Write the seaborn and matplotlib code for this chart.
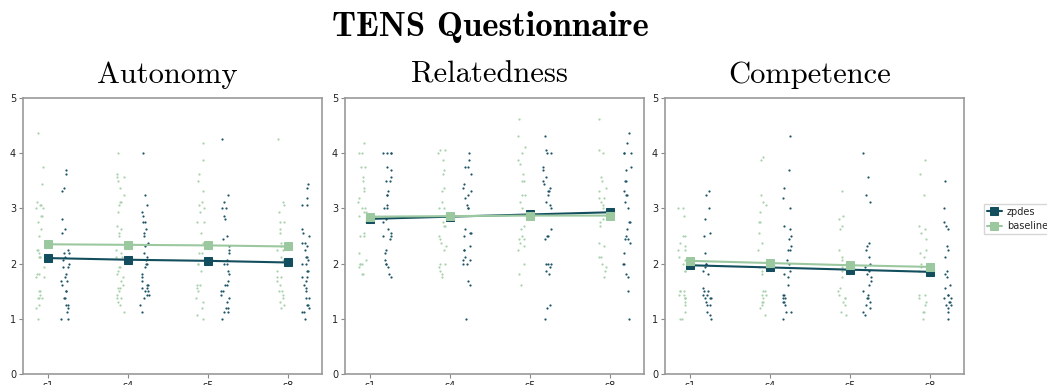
import matplotlib
matplotlib.use("Agg")
import matplotlib.pyplot as plt
import numpy as np
import pandas as pd
import seaborn as sns

sessions = ["s1", "s4", "s5", "s8"]
groups = ["zpdes", "baseline"]
panels = ["Autonomy", "Relatedness", "Competence"]

# individual questionnaire scores, one list per session (s1, s4, s5, s8)
autonomy_baseline = [
    [4.37, 3.75, 3.44, 3.12, 3.06, 3.06, 3.0, 3.0, 2.87, 2.87, 2.75, 2.62, 2.5, 2.25, 2.25, 2.19, 2.12,
     2.12, 2.12, 1.94, 1.81, 1.81, 1.75, 1.75, 1.5, 1.5, 1.44, 1.37, 1.37, 1.37, 1.25, 1.19, 1.0],
    [4.0, 3.62, 3.56, 3.56, 3.5, 3.37, 3.25, 3.12, 3.12, 3.06, 2.94, 2.69, 2.62, 2.56, 2.5, 2.25, 2.19,
     2.12, 2.12, 1.94, 1.94, 1.87, 1.81, 1.75, 1.69, 1.62, 1.56, 1.56, 1.5, 1.44, 1.37, 1.37, 1.31, 1.25, 1.12],
    [4.19, 3.87, 3.62, 3.5, 3.31, 3.12, 3.06, 3.0, 2.94, 2.75, 2.75, 2.56, 2.37, 2.19, 2.19, 2.0, 2.0,
     1.87, 1.62, 1.62, 1.56, 1.5, 1.37, 1.31, 1.19, 1.06, 1.0],
    [4.25, 3.12, 3.06, 2.94, 2.75, 2.75, 2.62, 2.56, 2.37, 2.31, 2.25, 2.25, 2.12, 2.06, 1.87, 1.75, 1.75,
     1.69, 1.62, 1.5, 1.5, 1.44, 1.37, 1.31, 1.25, 1.19],
]
autonomy_zpdes = [
    [3.69, 3.62, 3.37, 3.31, 2.81, 2.62, 2.56, 2.25, 2.19, 2.19, 2.12, 2.06, 2.0, 1.94, 1.94, 1.81, 1.75,
     1.69, 1.69, 1.62, 1.5, 1.5, 1.37, 1.37, 1.25, 1.25, 1.19, 1.12, 1.0, 1.0],
    [4.0, 3.25, 3.06, 2.94, 2.87, 2.75, 2.75, 2.62, 2.56, 2.5, 2.37, 2.31, 2.19, 2.12, 2.06, 2.0, 2.0,
     1.94, 1.81, 1.75, 1.69, 1.62, 1.62, 1.56, 1.56, 1.5, 1.5, 1.44, 1.44, 1.37, 1.25, 1.12],
    [4.25, 3.25, 3.12, 3.0, 3.0, 2.87, 2.81, 2.5, 2.44, 2.31, 2.25, 2.19, 2.06, 2.0, 2.0, 1.87, 1.81,
     1.69, 1.62, 1.62, 1.5, 1.5, 1.44, 1.37, 1.31, 1.19, 1.19, 1.12, 1.12, 1.0],
    [3.44, 3.37, 3.19, 3.06, 3.06, 2.62, 2.56, 2.5, 2.37, 2.37, 2.31, 2.25, 2.12, 2.12, 2.06, 2.0, 2.0,
     1.87, 1.87, 1.75, 1.75, 1.69, 1.62, 1.56, 1.5, 1.37, 1.37, 1.25, 1.25, 1.19, 1.12, 1.12, 1.0],
]
relatedness_baseline = [
    [4.19, 4.0, 4.0, 3.75, 3.75, 3.56, 3.5, 3.37, 3.31, 3.19, 3.12, 3.0, 3.0, 2.94, 2.94, 2.87, 2.75,
     2.56, 2.5, 2.5, 2.19, 2.06, 2.0, 2.0, 2.0, 1.94, 1.81, 1.81],
    [4.06, 4.06, 4.0, 3.87, 3.69, 3.62, 3.37, 3.31, 3.12, 3.0, 3.0, 2.75, 2.69, 2.69, 2.5, 2.44, 2.37,
     2.31, 2.25, 2.0, 2.0, 1.94, 1.87, 1.81, 1.75],
    [4.62, 4.31, 4.12, 4.0, 3.87, 3.81, 3.62, 3.5, 3.5, 3.25, 3.25, 3.12, 3.0, 2.69, 2.62, 2.5, 2.44,
     2.44, 2.37, 2.31, 2.25, 2.0, 1.81, 1.62],
    [4.62, 4.06, 4.0, 3.56, 3.5, 3.37, 3.31, 3.19, 3.19, 3.12, 3.06, 3.0, 2.81, 2.75, 2.69, 2.37, 2.31,
     2.12, 2.12, 2.0, 1.94, 1.87, 1.75],
]
relatedness_zpdes = [
    [4.0, 4.0, 4.0, 4.0, 3.75, 3.69, 3.56, 3.5, 3.5, 3.31, 3.25, 3.25, 3.06, 3.0, 3.0, 2.81, 2.75,
     2.62, 2.56, 2.5, 2.5, 2.44, 2.25, 2.19, 2.06, 2.0, 2.0, 1.94, 1.81, 1.75],
    [4.0, 3.87, 3.75, 3.75, 3.62, 3.44, 3.37, 3.31, 3.25, 3.19, 3.06, 3.0, 3.0, 2.62, 2.56, 2.56, 2.5,
     2.31, 2.25, 2.25, 2.12, 2.06, 2.06, 2.0, 2.0, 1.69, 1.62, 1.0],
    [4.31, 4.06, 4.0, 4.0, 3.75, 3.69, 3.56, 3.5, 3.44, 3.37, 3.31, 3.31, 3.25, 3.12, 3.06, 3.0, 2.62,
     2.5, 2.5, 2.44, 2.0, 2.0, 2.0, 1.94, 1.87, 1.81, 1.25, 1.19, 1.0],
    [4.37, 4.19, 4.0, 4.0, 4.0, 3.75, 3.69, 3.5, 3.5, 3.31, 3.25, 3.25, 3.12, 3.0, 2.75, 2.75, 2.62,
     2.5, 2.44, 2.44, 2.37, 2.19, 2.0, 2.0, 1.81, 1.75, 1.5, 1.0],
]
competence_baseline = [
    [3.0, 3.0, 2.87, 2.5, 2.5, 2.37, 2.31, 2.25, 2.25, 2.12, 2.06, 2.0, 1.87, 1.87, 1.5, 1.5, 1.5,
     1.44, 1.44, 1.37, 1.37, 1.37, 1.31, 1.25, 1.12, 1.0, 1.0],
    [3.94, 3.87, 3.25, 3.12, 3.06, 2.94, 2.75, 2.75, 2.56, 2.37, 2.25, 1.94, 1.87, 1.81, 1.5, 1.5,
     1.44, 1.44, 1.37, 1.31, 1.31, 1.25, 1.19, 1.06],
    [3.31, 2.87, 2.81, 2.69, 2.62, 2.25, 2.12, 2.06, 2.0, 1.94, 1.87, 1.75, 1.56, 1.5, 1.44, 1.37,
     1.37, 1.31, 1.25, 1.12, 1.06],
    [3.87, 3.62, 3.25, 2.69, 2.62, 2.56, 2.44, 2.25, 2.19, 2.12, 2.0, 1.94, 1.87, 1.44, 1.44, 1.37,
     1.31, 1.25, 1.12, 1.12, 1.0],
]
competence_zpdes = [
    [3.31, 3.25, 3.0, 2.81, 2.56, 2.5, 2.19, 2.0, 2.0, 1.94, 1.87, 1.81, 1.56, 1.5, 1.5, 1.44, 1.44,
     1.37, 1.37, 1.37, 1.31, 1.25, 1.25, 1.12, 1.06, 1.0],
    [4.31, 3.69, 3.37, 3.19, 3.0, 2.69, 2.62, 2.5, 2.44, 2.31, 2.25, 2.25, 2.06, 2.0, 1.87, 1.81, 1.75,
     1.62, 1.44, 1.44, 1.37, 1.37, 1.31, 1.31, 1.25, 1.12, 1.12, 1.0],
    [4.0, 3.56, 3.25, 3.12, 2.37, 2.31, 2.25, 2.12, 2.0, 1.94, 1.87, 1.81, 1.75, 1.69, 1.62, 1.5, 1.44,
     1.37, 1.37, 1.31, 1.25, 1.19, 1.12, 1.06],
    [3.5, 3.0, 2.75, 2.69, 2.62, 2.31, 2.25, 2.12, 1.87, 1.81, 1.75, 1.62, 1.56, 1.44, 1.44, 1.37, 1.37,
     1.31, 1.31, 1.25, 1.25, 1.19, 1.12, 1.0],
]

# group means per session
autonomy_mean_zpdes = [2.10, 2.07, 2.05, 2.02]
autonomy_mean_baseline = [2.35, 2.34, 2.33, 2.31]
relatedness_mean_zpdes = [2.81, 2.85, 2.89, 2.93]
relatedness_mean_baseline = [2.85, 2.86, 2.87, 2.87]
competence_mean_zpdes = [1.97, 1.93, 1.89, 1.85]
competence_mean_baseline = [2.05, 2.01, 1.97, 1.94]

scores = {
    ("Autonomy", "zpdes"): autonomy_zpdes,
    ("Autonomy", "baseline"): autonomy_baseline,
    ("Relatedness", "zpdes"): relatedness_zpdes,
    ("Relatedness", "baseline"): relatedness_baseline,
    ("Competence", "zpdes"): competence_zpdes,
    ("Competence", "baseline"): competence_baseline,
}
means = {
    ("Autonomy", "zpdes"): autonomy_mean_zpdes,
    ("Autonomy", "baseline"): autonomy_mean_baseline,
    ("Relatedness", "zpdes"): relatedness_mean_zpdes,
    ("Relatedness", "baseline"): relatedness_mean_baseline,
    ("Competence", "zpdes"): competence_mean_zpdes,
    ("Competence", "baseline"): competence_mean_baseline,
}

rows = []
for (panel, group), per_session in scores.items():
    for si, vals in enumerate(per_session):
        for v in vals:
            rows.append({"panel": panel, "group": group, "session": si, "score": v})
df = pd.DataFrame(rows)

sns.set_theme(style="white")
plt.rcParams["font.family"] = ["DejaVu Sans"]

colors = {"zpdes": "#134e5e", "baseline": "#9cc8a0"}
dot_colors = {"zpdes": "#1d5567", "baseline": "#a9d1ac"}
offsets = {"zpdes": 0.21, "baseline": -0.10}
jitters = {"zpdes": 0.055, "baseline": 0.05}

W, H = 1047, 385
fig = plt.figure(figsize=(W / 100, H / 100), dpi=100)
lefts = [23, 345, 665]
ax_w = 299
ax_top, ax_bot = 98, 374

for panel, left in zip(panels, lefts):
    ax = fig.add_axes([left / W, 1 - ax_bot / H, ax_w / W, (ax_bot - ax_top) / H])
    for group in ["baseline", "zpdes"]:
        sub = df[(df.panel == panel) & (df.group == group)].copy()
        sub["pos"] = sub["session"] + offsets[group]
        sns.stripplot(data=sub, x="pos", y="score", native_scale=True, jitter=jitters[group],
                      color=dot_colors[group], size=1.6, linewidth=0, ax=ax, zorder=2)
    for group in groups:
        sns.lineplot(x=np.arange(len(sessions)), y=means[(panel, group)], color=colors[group],
                     marker="s", markersize=5.5, markeredgecolor=colors[group], linewidth=1.5,
                     label=group, ax=ax, zorder=3, legend=False)
    ax.set_xlim(-0.31, 3.42)
    ax.set_ylim(0, 5)
    ax.set_xticks(range(len(sessions)))
    ax.set_xticklabels(sessions)
    ax.set_yticks(range(6))
    ax.set_xlabel("")
    ax.set_ylabel("")
    ax.tick_params(axis="both", labelsize=7, length=3, width=0.8, color="#888888",
                   labelcolor="#222222", pad=2, bottom=True, left=True)
    for sp in ax.spines.values():
        sp.set_color("#999999")
        sp.set_linewidth(1.2)
    ax.set_title(panel, fontfamily="cmr10", fontsize=22, pad=11, x=0.483, color="black")

handles = ax.get_lines()[:2]
fig.legend(handles, groups, loc="center left", bbox_to_anchor=(984 / W, 1 - 219 / H),
           borderaxespad=0, fontsize=7, frameon=True, edgecolor="#cccccc", fancybox=False,
           handlelength=1.5, handletextpad=0.55, borderpad=0.3, labelspacing=0.45)

fig.text(490 / W, 1 - 36 / H, "TENS Questionnaire", fontfamily="cmb10", fontsize=25,
         ha="center", va="baseline", color="black")

fig.savefig("out.png", dpi=100)
